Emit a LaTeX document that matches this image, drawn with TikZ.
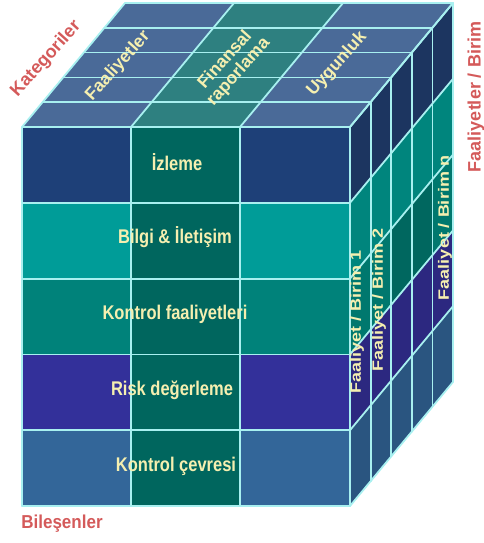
\documentclass[tikz,border=0pt]{standalone}
\usepackage{fontspec}
\setmainfont{Liberation Sans}
\usepackage{graphicx}
\definecolor{cN}{HTML}{1E4078}
\definecolor{cB}{HTML}{009C98}
\definecolor{cK}{HTML}{00827A}
\definecolor{cR}{HTML}{33309A}
\definecolor{cS}{HTML}{336699}
\definecolor{cM}{HTML}{00665E}
\definecolor{cTS}{HTML}{4A6A98}
\definecolor{cTM}{HTML}{2E8080}
\definecolor{rN}{HTML}{1C3560}
\definecolor{rB}{HTML}{00857D}
\definecolor{rK}{HTML}{00786E}
\definecolor{rKd}{HTML}{00675F}
\definecolor{rR}{HTML}{2C2880}
\definecolor{rS}{HTML}{2A5580}
\definecolor{gridc}{HTML}{A8F0F0}
\definecolor{txty}{HTML}{F5EFB0}
\definecolor{txtr}{HTML}{D45A5A}
\begin{document}
\begin{tikzpicture}[x=1pt,y=-1pt,
  grid/.style={draw=gridc,line width=1.8pt,line cap=round,line join=round},
  lbl/.style={text=txty,font=\bfseries\fontsize{16.5}{18}\selectfont,inner sep=0pt},
  toplbl/.style={text=txty,font=\bfseries\fontsize{17.5}{18}\selectfont,inner sep=0pt,rotate=48,align=center},
  sidelbl/.style={text=txty,font=\bfseries\fontsize{15}{16}\selectfont,inner sep=0pt,rotate=90},
  redlbl/.style={text=txtr,font=\bfseries\fontsize{18}{20}\selectfont,inner sep=0pt}]
\useasboundingbox (0,0) rectangle (483,543);
% front face
\foreach \r/\side in {0/cN,1/cB,2/cK,3/cR,4/cS}{
  \pgfmathsetmacro\ya{127+\r*75.8}
  \pgfmathsetmacro\yb{127+(\r+1)*75.8}
  \fill[\side] (22,\ya) rectangle (131,\yb);
  \fill[cM] (131,\ya) rectangle (240,\yb);
  \fill[\side] (240,\ya) rectangle (350,\yb);
}
% top face
\foreach \xa/\xb/\col in {22/131/cTS,131/240/cTM,240/350/cTS}{
  \fill[\col] (\xa,127) -- (\xb,127) -- ({\xb+103},3) -- ({\xa+103},3) -- cycle;
}
% right face
\foreach \r/\col in {0/rN,1/rB,2/rK,3/rR,4/rS}{
  \pgfmathsetmacro\ya{127+\r*75.8}
  \pgfmathsetmacro\yb{127+(\r+1)*75.8}
  \fill[\col] (350,\ya) -- (453,{\ya-124}) -- (453,{\yb-124}) -- (350,\yb) -- cycle;
}
\pgfmathsetmacro\ya{127+2*75.8}
\pgfmathsetmacro\yb{127+3*75.8}
\fill[rKd] ({350+2*20.6},{\ya-2*24.8}) -- ({350+4*20.6},{\ya-4*24.8}) -- ({350+4*20.6},{\yb-4*24.8}) -- ({350+2*20.6},{\yb-2*24.8}) -- cycle;
% grid lines
\foreach \x in {22,131,240,350}{
  \draw[grid] (\x,127) -- (\x,506);
  \draw[grid] (\x,127) -- ({\x+103},3);
}
\foreach \r in {0,...,5}{
  \draw[grid] (22,{127+\r*75.8}) -- (350,{127+\r*75.8});
  \draw[grid] (350,{127+\r*75.8}) -- (453,{127+\r*75.8-124});
}
\foreach \k in {0,...,5}{
  \draw[grid] ({22+\k*20.6},{127-\k*24.8}) -- ({350+\k*20.6},{127-\k*24.8});
  \draw[grid] ({350+\k*20.6},{127-\k*24.8}) -- ({350+\k*20.6},{506-\k*24.8});
}
% front labels
\node[lbl] (izl) at (177,162) {\scalebox{1}[1.2]{İzleme}};
\node[lbl] (bil) at (175,237) {\scalebox{1}[1.2]{Bilgi \& İletişim}};
\node[lbl] (kfa) at (175,314) {\scalebox{1}[1.2]{Kontrol faaliyetleri}};
\node[lbl] (rsk) at (172,390) {\scalebox{1}[1.2]{Risk değerleme}};
\node[lbl] (kcv) at (176,466) {\scalebox{1}[1.2]{Kontrol çevresi}};
% top labels
\node[toplbl] (faa) at (118,66) {Faaliyetler};
\node[toplbl] (fin) at (232,66) {Finansal\\raporlama};
\node[toplbl] (uyg) at (337,64) {Uygunluk};
% side labels
\node[sidelbl] (b1) at (357,322) {\scalebox{1.2}[1]{Faaliyet / Birim 1}};
\node[sidelbl] (b2) at (379,300) {\scalebox{1.2}[1]{Faaliyet / Birim 2}};
\node[sidelbl] (bn) at (445,228) {\scalebox{1.2}[1]{Faaliyet / Birim n}};
% red labels
\node[redlbl,rotate=48] (kat) at (46,59) {Kategoriler};
\node[redlbl,rotate=90] (fab) at (476,97) {Faaliyetler / Birim};
\node[redlbl] (bls) at (62,524) {\scalebox{1}[1.1]{\fontsize{17}{18}\selectfont Bileşenler}};
\end{tikzpicture}
\end{document}
